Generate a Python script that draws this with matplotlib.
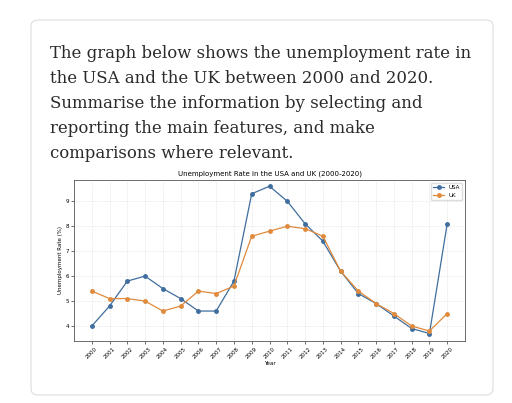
import matplotlib
matplotlib.use("Agg")
import matplotlib.pyplot as plt
from matplotlib.patches import FancyBboxPatch

years = list(range(2000, 2021))
usa = [4.0, 4.8, 5.8, 6.0, 5.5, 5.1, 4.6, 4.6, 5.8, 9.3, 9.6, 9.0, 8.1, 7.4, 6.2, 5.3, 4.9, 4.4, 3.9, 3.7, 8.1]
uk = [5.4, 5.1, 5.1, 5.0, 4.6, 4.8, 5.4, 5.3, 5.6, 7.6, 7.8, 8.0, 7.9, 7.6, 6.2, 5.4, 4.9, 4.5, 4.0, 3.8, 4.5]

fig = plt.figure(figsize=(5.12, 4.03), dpi=100)
fig.patch.set_facecolor("white")
card = FancyBboxPatch((31/512, 8/403), 462/512, 375/403, boxstyle="round,pad=0,rounding_size=0.015",
                      transform=fig.transFigure, facecolor="white", edgecolor="#dddddd", linewidth=0.8,
                      zorder=-10)
fig.patches.append(card)

lines = ["The graph below shows the unemployment rate in",
         "the USA and the UK between 2000 and 2020.",
         "Summarise the information by selecting and",
         "reporting the main features, and make",
         "comparisons where relevant."]
for i, t in enumerate(lines):
    fig.text(50/512, 1 - (58 + i*25)/403, t, fontsize=11.9, family="DejaVu Serif",
             color="#2a2a2a", va="baseline")

ax = fig.add_axes([74/512, 62/403, 391/512, 161/403])
ax.plot(years, usa, marker="o", markersize=2.5, linewidth=0.9, color="#3f6e9e", label="USA")
ax.plot(years, uk, marker="o", markersize=2.5, linewidth=0.9, color="#e08a3c", label="UK")
ax.set_xticks(years)
ax.set_xticklabels([str(y) for y in years], rotation=45, fontsize=4)
ax.set_yticks([4, 5, 6, 7, 8, 9])
ax.tick_params(axis="y", labelsize=4)
ax.tick_params(length=2, width=0.4, pad=1.5)
ax.set_ylim(3.4, 9.85)
ax.set_xlim(1999.0, 2021.0)
ax.grid(True, linestyle=":", linewidth=0.4, color="#cccccc")
ax.set_title("Unemployment Rate in the USA and UK (2000-2020)", fontsize=5, pad=3)
ax.set_xlabel("Year", fontsize=4, labelpad=1)
ax.set_ylabel("Unemployment Rate (%)", fontsize=4, labelpad=2)
for s in ax.spines.values():
    s.set_linewidth(0.6)
    s.set_color("#555555")
ax.legend(fontsize=4, loc="upper right", frameon=True, framealpha=1, edgecolor="#dddddd")

fig.savefig("out.png", dpi=100)
